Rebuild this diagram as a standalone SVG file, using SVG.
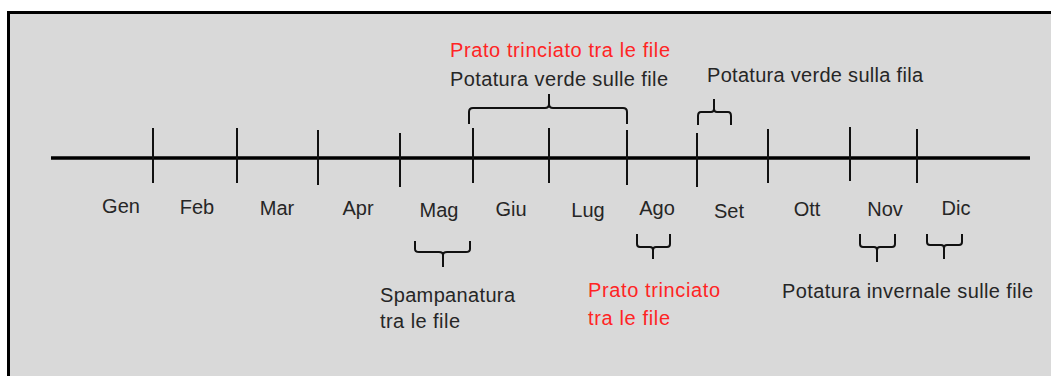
<svg xmlns="http://www.w3.org/2000/svg" width="1051" height="376" viewBox="0 0 1051 376">
<style>
.t{font-family:"Liberation Sans",Arial,sans-serif;font-size:20px;fill:#262626}
.r{fill:#ff2424}
.m{text-anchor:middle}
.tick{stroke:#111;stroke-width:2}
.br{fill:none;stroke:#111;stroke-width:2;stroke-linejoin:round}
</style>
<rect x="0" y="0" width="1051" height="376" fill="#fff"/>
<rect id="frame" x="8.5" y="12.5" width="1060" height="400" fill="#d9d9d9" stroke="#000" stroke-width="3"/>
<g id="connectors">
<line x1="51" y1="158" x2="1030" y2="158" stroke="#000" stroke-width="3.5"/>
<line class="tick" x1="153" y1="128" x2="153" y2="183"/>
<line class="tick" x1="237" y1="128" x2="237" y2="183"/>
<line class="tick" x1="318" y1="130" x2="318" y2="185"/>
<line class="tick" x1="400" y1="133" x2="400" y2="187"/>
<line class="tick" x1="473" y1="128" x2="473" y2="183"/>
<line class="tick" x1="549" y1="128" x2="549" y2="183"/>
<line class="tick" x1="627" y1="130" x2="627" y2="185"/>
<line class="tick" x1="697" y1="133" x2="697" y2="187"/>
<line class="tick" x1="768" y1="129" x2="768" y2="183"/>
<line class="tick" x1="850" y1="127" x2="850" y2="181"/>
<line class="tick" x1="917" y1="129" x2="917" y2="183"/>
</g>
<g id="months">
<text class="t m" x="121" y="213">Gen</text>
<text class="t m" x="197" y="214">Feb</text>
<text class="t m" x="277" y="215">Mar</text>
<text class="t m" x="358" y="215">Apr</text>
<text class="t m" x="439" y="217">Mag</text>
<text class="t m" x="511" y="216">Giu</text>
<text class="t m" x="588" y="217">Lug</text>
<text class="t m" x="657" y="215">Ago</text>
<text class="t m" x="729" y="218">Set</text>
<text class="t m" x="807" y="216">Ott</text>
<text class="t m" x="885" y="216">Nov</text>
<text class="t m" x="956" y="215">Dic</text>
</g>
<g id="summer-rows">
<path class="br" d="M469,124 V112 Q469,108 473,108 H545 Q549,108 549,104 Q549,108 553,108 H623 Q627,108 627,112 V124 M549,107 V94"/>
<text class="t r" x="450" y="57" textLength="220">Prato trinciato tra le file</text>
<text class="t" x="450" y="86" textLength="218">Potatura verde sulle file</text>
</g>
<g id="september-row">
<path class="br" d="M698,125 V116 Q698,112 701,112 H711 Q714,112 714,109 Q714,112 717,112 H728 Q731,112 731,116 V125 M714,111 V99"/>
<text class="t" x="707" y="82" textLength="216">Potatura verde sulla fila</text>
</g>
<g id="may-spampanatura">
<path class="br" d="M415,241 V249 Q415,252 419,252 H439 Q443,252 443,255 Q443,252 447,252 H466 Q470,252 470,249 V241 M443,253 V267"/>
<text class="t" x="380" y="302" textLength="135">Spampanatura</text>
<text class="t" x="380" y="328" textLength="80">tra le file</text>
</g>
<g id="august-grass">
<path class="br" d="M637,234 V244 Q637,247 640,247 H650 Q653,247 653,250 Q653,247 656,247 H667 Q670,247 670,244 V234 M653,248 V259"/>
<text class="t r" x="588" y="297" textLength="132">Prato trinciato</text>
<text class="t r" x="588" y="325" textLength="82">tra le file</text>
</g>
<g id="winter-pruning">
<path class="br" d="M860,234 V244 Q860,247 863,247 H874 Q877,247 877,250 Q877,247 880,247 H892 Q895,247 895,244 V234 M877,248 V262"/>
<path class="br" d="M927,234 V242 Q927,245 930,245 H941 Q944,245 944,248 Q944,245 947,245 H959 Q962,245 962,242 V234 M944,246 V259"/>
<text class="t" x="782" y="298" textLength="251">Potatura invernale sulle file</text>
</g>
</svg>
